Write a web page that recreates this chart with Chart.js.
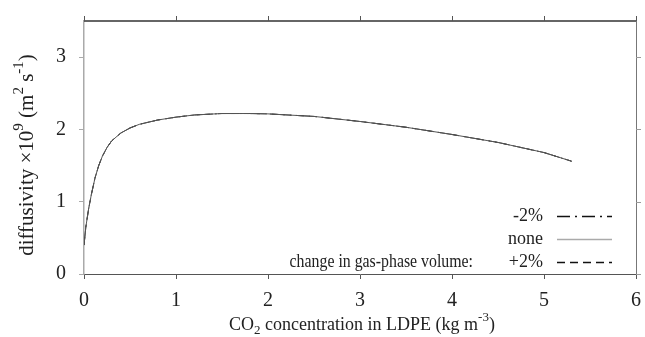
<!DOCTYPE html>
<html>
<head>
<meta charset="utf-8">
<script src="https://cdn.jsdelivr.net/npm/chart.js@4.4.1/dist/chart.umd.min.js"></script>
<style>
  html, body { margin: 0; padding: 0; background: #fff; }
  #wrap { width: 645px; height: 337px; }
</style>
</head>
<body>
<div id="wrap"><canvas id="diffChart" width="645" height="337"></canvas></div>
<script>
// CO2 concentration (kg m^-3) and diffusivity x10^9 (m^2 s^-1)
const concentration = [0, 0.02, 0.05, 0.08, 0.12, 0.16, 0.2, 0.25, 0.3, 0.4, 0.5, 0.6, 0.8, 1.0, 1.2, 1.5, 1.8, 2.0, 2.5, 3.0, 3.5, 4.0, 4.5, 5.0, 5.3];
const diffMinus2 = [0.40, 0.65, 0.90, 1.10, 1.33, 1.50, 1.63, 1.75, 1.84, 1.95, 2.02, 2.07, 2.13, 2.17, 2.20, 2.22, 2.22, 2.215, 2.18, 2.11, 2.03, 1.93, 1.82, 1.68, 1.56];
const diffNone   = [0.40, 0.65, 0.90, 1.10, 1.33, 1.50, 1.63, 1.75, 1.84, 1.95, 2.02, 2.07, 2.13, 2.17, 2.20, 2.22, 2.22, 2.215, 2.18, 2.11, 2.03, 1.93, 1.82, 1.68, 1.56];
const diffPlus2  = [0.40, 0.65, 0.90, 1.10, 1.33, 1.50, 1.63, 1.75, 1.84, 1.95, 2.02, 2.07, 2.13, 2.17, 2.20, 2.22, 2.22, 2.215, 2.18, 2.11, 2.03, 1.93, 1.82, 1.68, 1.56];
const xTicks = [0, 1, 2, 3, 4, 5, 6];
const yTicks = [0, 1, 2, 3];
const legendLabels = ['-2%', 'none', '+2%'];
const legendTitle = 'change in gas-phase volume:';

const serif = 'Liberation Serif';

function toPoints(ys) {
  return concentration.map((x, i) => ({ x: x, y: ys[i] }));
}

// draws text with super/subscript pieces, centred on (cx, cy)
function drawRich(ctx, parts, cx, cy, size) {
  let total = 0;
  parts.forEach(p => {
    ctx.font = (p[1] === 'n' ? size : Math.round(size * 0.72)) + 'px "' + serif + '"';
    p.w = ctx.measureText(p[0]).width;
    total += p.w;
  });
  let x = cx - total / 2;
  ctx.textBaseline = 'middle';
  ctx.textAlign = 'left';
  parts.forEach(p => {
    ctx.font = (p[1] === 'n' ? size : Math.round(size * 0.72)) + 'px "' + serif + '"';
    let dy = 0;
    if (p[1] === 'sup') dy = -size * 0.4;
    if (p[1] === 'sub') dy = size * 0.3;
    ctx.fillText(p[0], x, cy + dy);
    x += p.w;
  });
}

const framePlugin = {
  id: 'frame',
  afterDraw(chart) {
    const ctx = chart.ctx;
    const a = chart.chartArea;
    const xs = chart.scales.x;
    const ys = chart.scales.y;
    ctx.save();
    // top border with outward ticks
    ctx.strokeStyle = '#333';
    ctx.lineWidth = 1.5;
    ctx.beginPath();
    ctx.moveTo(a.left, a.top);
    ctx.lineTo(a.right, a.top);
    ctx.stroke();
    ctx.lineWidth = 1;
    ctx.strokeStyle = '#555';
    xTicks.forEach(v => {
      const px = Math.round(xs.getPixelForValue(v)) + 0.5;
      ctx.beginPath();
      ctx.moveTo(px, a.top);
      ctx.lineTo(px, a.top - 5);
      ctx.stroke();
    });
    // right border with outward ticks
    ctx.strokeStyle = '#777';
    ctx.beginPath();
    ctx.moveTo(a.right + 0.5, a.top);
    ctx.lineTo(a.right + 0.5, a.bottom);
    ctx.stroke();
    ctx.strokeStyle = '#999';
    yTicks.forEach(v => {
      const py = Math.round(ys.getPixelForValue(v)) + 0.5;
      ctx.beginPath();
      ctx.moveTo(a.right, py);
      ctx.lineTo(a.right + 5, py);
      ctx.stroke();
    });

    // tick labels
    ctx.fillStyle = '#222';
    ctx.font = '20px "' + serif + '"';
    ctx.textBaseline = 'middle';
    ctx.textAlign = 'center';
    xTicks.forEach(v => ctx.fillText(String(v), xs.getPixelForValue(v), 301));
    ctx.textAlign = 'right';
    yTicks.forEach(v => ctx.fillText(String(v), 66, ys.getPixelForValue(v)));

    // axis titles
    drawRich(ctx, [['CO', 'n'], ['2', 'sub'], [' concentration in LDPE (kg m', 'n'], ['-3', 'sup'], [')', 'n']],
      362, 325, 18);
    ctx.save();
    ctx.translate(27, 155);
    ctx.rotate(-Math.PI / 2);
    drawRich(ctx, [['diffusivity \u00d710', 'n'], ['9', 'sup'], [' (m', 'n'], ['2', 'sup'], [' s', 'n'], ['-1', 'sup'], [')', 'n']],
      0, 0, 21);
    ctx.restore();

    // legend
    const rows = [216, 239, 262];
    const dashes = [[13, 5, 2, 5], [], [8, 5]];
    const colors = ['#111', '#aaa', '#111'];
    ctx.textAlign = 'right';
    ctx.textBaseline = 'middle';
    ctx.font = '18px "' + serif + '"';
    legendLabels.forEach((lab, i) => {
      ctx.fillStyle = '#222';
      ctx.fillText(lab, 543, rows[i]);
      ctx.strokeStyle = colors[i];
      ctx.lineWidth = 1.3;
      ctx.setLineDash(dashes[i]);
      ctx.beginPath();
      ctx.moveTo(557, rows[i] + 0.5);
      ctx.lineTo(612, rows[i] + 0.5);
      ctx.stroke();
    });
    ctx.setLineDash([]);
    // the title of the legend is set a little narrower, as in the source figure
    ctx.save();
    ctx.translate(473, rows[2]);
    ctx.scale(0.88, 1);
    ctx.fillText(legendTitle, 0, 0);
    ctx.restore();
    ctx.restore();
  }
};

new Chart(document.getElementById('diffChart').getContext('2d'), {
  type: 'scatter',
  data: {
    datasets: [
      { label: legendLabels[1], data: toPoints(diffNone), showLine: true, borderColor: '#555', borderWidth: 1, pointRadius: 0 },
      { label: legendLabels[0], data: toPoints(diffMinus2), showLine: true, borderColor: '#333', borderWidth: 1, borderDash: [13, 5, 2, 5], pointRadius: 0 },
      { label: legendLabels[2], data: toPoints(diffPlus2), showLine: true, borderColor: '#333', borderWidth: 1, borderDash: [8, 5], pointRadius: 0 }
    ]
  },
  options: {
    responsive: false,
    animation: false,
    layout: { padding: { top: 21, right: 9, left: 0, bottom: 0 } },
    scales: {
      x: {
        type: 'linear',
        min: 0, max: 6,
        afterFit: s => { s.height = 63; },
        afterBuildTicks: s => { s.ticks = xTicks.map(v => ({ value: v })); },
        ticks: { display: false },
        grid: { drawOnChartArea: false, color: '#555', tickLength: 5 },
        border: { color: '#555', width: 1 }
      },
      y: {
        type: 'linear',
        min: 0, max: 3.5,
        afterFit: s => { s.width = 84; },
        afterBuildTicks: s => { s.ticks = yTicks.map(v => ({ value: v })); },
        ticks: { display: false },
        grid: { drawOnChartArea: false, color: '#aaa', tickLength: 5 },
        border: { color: '#aaa', width: 1.5 }
      }
    },
    plugins: {
      legend: { display: false },
      tooltip: { enabled: false }
    }
  },
  plugins: [framePlugin]
});
</script>
</body>
</html>
